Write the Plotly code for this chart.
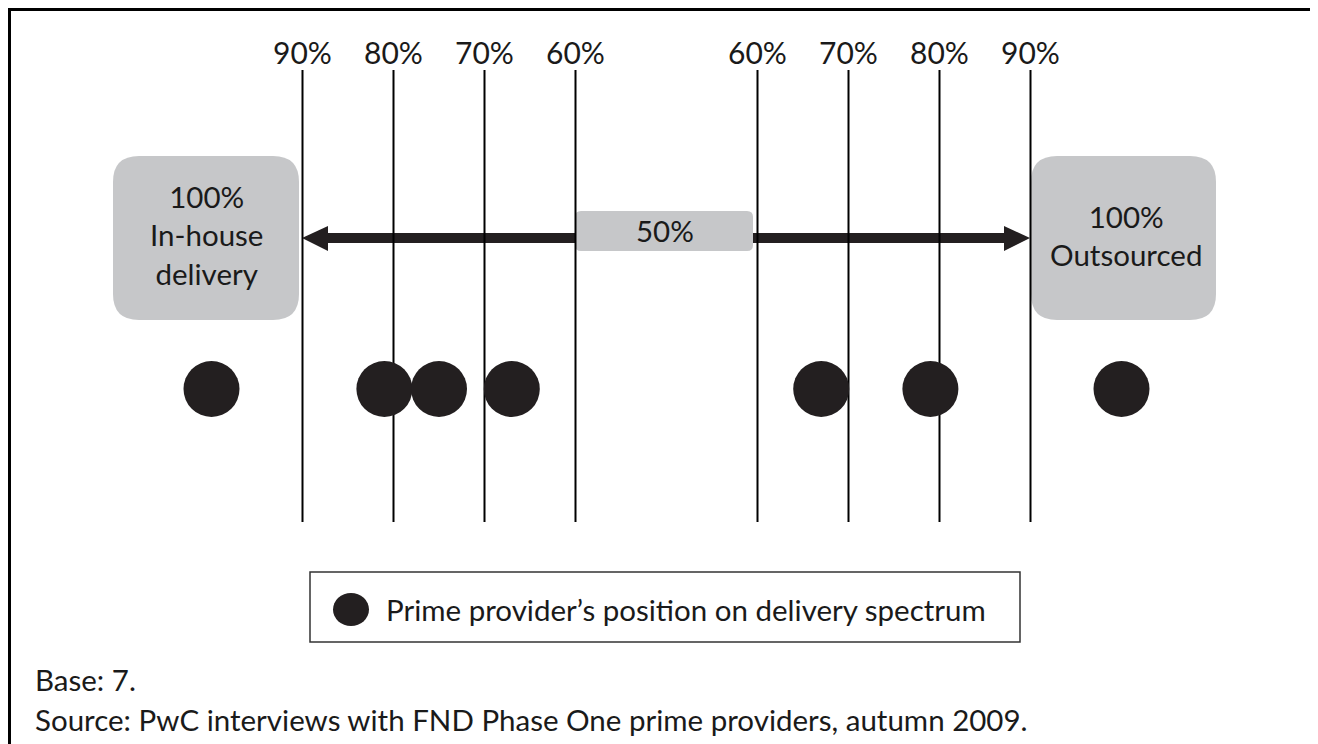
import plotly.graph_objects as go

# ---- data ----
tick_values = [10, 20, 30, 40, 60, 70, 80, 90]          # share outsourced (%)
tick_labels = ["90%", "80%", "70%", "60%", "60%", "70%", "80%", "90%"]
provider_positions = [0, 19, 25, 33, 67, 79, 100]       # share outsourced (%) per prime provider
legend_label = "Prime provider’s position on delivery spectrum"
left_label = "100%<br>In-house<br>delivery"
right_label = "100%<br>Outsourced"
center_label = "50%"
base_note = "Base: 7."
source_note = "Source: PwC interviews with FND Phase One prime providers, autumn 2009."

# ---- geometry helpers (screen pixel layout; page body has an 8px margin) ----
W, H = 1318, 744
OFF = 8
PX_PER_UNIT = 9.1
X50 = 666.5


def ux(px):
    return 50 + (px - X50) / PX_PER_UNIT


FONT = "Lato"
TXT = "#1a1a1a"
DARK = "#231f20"
GREY = "#c6c7c9"
FS = 29.5


def rrect(x0, x1, y0, y1, r_px):
    rx = r_px / PX_PER_UNIT
    ry = r_px
    return (f"M {x0+rx},{y0} L {x1-rx},{y0} Q {x1},{y0} {x1},{y0+ry} "
            f"L {x1},{y1-ry} Q {x1},{y1} {x1-rx},{y1} L {x0+rx},{y1} "
            f"Q {x0},{y1} {x0},{y1-ry} L {x0},{y0+ry} Q {x0},{y0} {x0+rx},{y0} Z")


fig = go.Figure()

# vertical guide lines
lx, ly = [], []
for v in tick_values:
    lx += [v, v, None]
    ly += [70, 522, None]
fig.add_trace(go.Scatter(x=lx, y=ly, mode="lines",
                         line=dict(color="black", width=2),
                         hoverinfo="skip", showlegend=False))

# provider dots
fig.add_trace(go.Scatter(x=provider_positions, y=[389] * len(provider_positions),
                         mode="markers",
                         marker=dict(size=56, color=DARK, line=dict(width=0)),
                         showlegend=False))

shapes = []
# rounded boxes
shapes.append(dict(type="path", path=rrect(ux(113), ux(299), 156, 320, 26),
                   fillcolor=GREY, line=dict(width=0), layer="below"))
shapes.append(dict(type="path", path=rrect(ux(1031), ux(1216), 156, 320, 26),
                   fillcolor=GREY, line=dict(width=0), layer="below"))
shapes.append(dict(type="path", path=rrect(ux(575), ux(753), 211, 251, 6),
                   fillcolor=GREY, line=dict(width=0), layer="below"))

# arrows (shaft + head)
shapes.append(dict(type="rect", x0=ux(327), x1=ux(575), y0=233, y1=243,
                   fillcolor=DARK, line=dict(width=0), layer="below"))
shapes.append(dict(type="path",
                   path=f"M {ux(302)},238 L {ux(328)},226 L {ux(328)},251 Z",
                   fillcolor=DARK, line=dict(width=0), layer="below"))
shapes.append(dict(type="rect", x0=ux(753), x1=ux(1005), y0=233, y1=243,
                   fillcolor=DARK, line=dict(width=0), layer="below"))
shapes.append(dict(type="path",
                   path=f"M {ux(1030)},238 L {ux(1004)},226 L {ux(1004)},251 Z",
                   fillcolor=DARK, line=dict(width=0), layer="below"))

# legend box
shapes.append(dict(type="rect", x0=ux(310), x1=ux(1020), y0=572, y1=642,
                   line=dict(color="#333333", width=1.5), fillcolor="rgba(0,0,0,0)"))
shapes.append(dict(type="circle", x0=ux(333), x1=ux(369), y0=593, y1=626,
                   fillcolor=DARK, line=dict(width=0)))

# outer frame (top, left, right) in screen pixels
shapes.append(dict(type="line", x0=ux(8), x1=ux(1317), y0=9.5, y1=9.5,
                   line=dict(color="black", width=3)))
shapes.append(dict(type="line", x0=ux(9.5), x1=ux(9.5), y0=8, y1=760,
                   line=dict(color="black", width=3)))
shapes.append(dict(type="line", x0=ux(1316), x1=ux(1316), y0=8, y1=760,
                   line=dict(color="#333333", width=2)))

annotations = []
for v, t in zip(tick_values, tick_labels):
    annotations.append(dict(x=v, y=52, text=t, showarrow=False,
                            xanchor="center", yanchor="middle",
                            font=dict(family=FONT, size=30, color=TXT)))
annotations.append(dict(x=ux(206), y=235, text=left_label, showarrow=False,
                        xanchor="center", yanchor="middle",
                        font=dict(family=FONT, size=FS, color=TXT)))
annotations.append(dict(x=ux(1126), y=235, text=right_label, showarrow=False,
                        xanchor="center", yanchor="middle",
                        font=dict(family=FONT, size=FS, color=TXT)))
annotations.append(dict(x=ux(665), y=230, text=center_label, showarrow=False,
                        xanchor="center", yanchor="middle",
                        font=dict(family=FONT, size=FS, color=TXT)))
annotations.append(dict(x=ux(384), y=609, text=legend_label, showarrow=False,
                        xanchor="left", yanchor="middle",
                        font=dict(family=FONT, size=FS, color=TXT)))
annotations.append(dict(x=ux(33), y=679, text=base_note, showarrow=False,
                        xanchor="left", yanchor="middle",
                        font=dict(family=FONT, size=FS, color=TXT)))
annotations.append(dict(x=ux(33), y=719, text=source_note, showarrow=False,
                        xanchor="left", yanchor="middle",
                        font=dict(family=FONT, size=FS, color=TXT)))

fig.update_layout(
    width=W, height=H,
    margin=dict(l=0, r=0, t=0, b=0),
    paper_bgcolor="white", plot_bgcolor="white",
    xaxis=dict(range=[ux(OFF), ux(OFF + W)], visible=False, fixedrange=True),
    yaxis=dict(range=[OFF + H, OFF], visible=False, fixedrange=True),
    shapes=shapes, annotations=annotations,
    showlegend=False,
)

fig.write_html("out.html")
